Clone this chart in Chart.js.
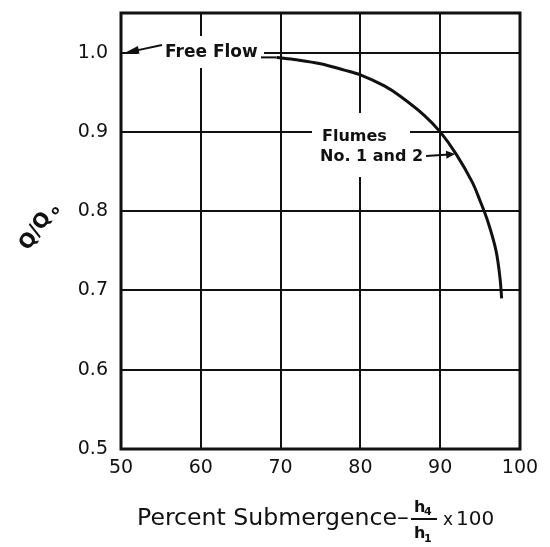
<!DOCTYPE html>
<html>
<head>
<meta charset="utf-8">
<script src="https://cdn.jsdelivr.net/npm/chart.js@4.4.1/dist/chart.umd.min.js"></script>
<style>
  html, body { margin: 0; padding: 0; background: #fff; }
  #wrap { width: 550px; height: 547px; }
</style>
</head>
<body>
<div id="wrap"><canvas id="flowChart" width="550" height="547"></canvas></div>
<script>
// curve
const submergence = [69.5, 72, 75, 78, 80, 83, 85, 88, 90, 92, 94, 95, 96, 97, 97.5, 97.7];
const flowRatio = [0.994, 0.991, 0.986, 0.978, 0.972, 0.958, 0.945, 0.921, 0.9, 0.872, 0.837, 0.813, 0.786, 0.75, 0.715, 0.69];

const xTicks = [50, 60, 70, 80, 90, 100];
const yTicks = [0.5, 0.6, 0.7, 0.8, 0.9, 1.0];

const INK = '#111';
const tickFont = { family: 'DejaVu Sans', size: 19 };

function arrowHead(ctx, x1, y1, x2, y2, len, half) {
    const a = Math.atan2(y2 - y1, x2 - x1);
    ctx.beginPath();
    ctx.moveTo(x2, y2);
    ctx.lineTo(x2 - len * Math.cos(a) + half * Math.sin(a), y2 - len * Math.sin(a) - half * Math.cos(a));
    ctx.lineTo(x2 - len * Math.cos(a) - half * Math.sin(a), y2 - len * Math.sin(a) + half * Math.cos(a));
    ctx.closePath();
    ctx.fill();
}

const notesPlugin = {
    id: 'notes',
    afterDatasetsDraw(chart) {
        const ctx = chart.ctx;
        const xs = chart.scales.x, ys = chart.scales.y;
        ctx.save();
        // white patches behind the labels (gridlines are broken there)
        ctx.fillStyle = '#fff';
        ctx.fillRect(138, 36, 126, 32);
        ctx.fillRect(312, 113, 98, 64);

        ctx.fillStyle = INK;
        ctx.strokeStyle = INK;
        ctx.textBaseline = 'middle';
        ctx.font = 'bold 17px "DejaVu Sans"';
        ctx.fillText('Free Flow', 165, 53);
        ctx.lineWidth = 2;
        const sx = xs.getPixelForValue(submergence[0]), sy = ys.getPixelForValue(flowRatio[0]);
        ctx.beginPath();
        ctx.moveTo(261, sy);
        ctx.lineTo(sx, sy);
        ctx.stroke();
        // arrow to the free-flow point
        const tx = xs.getPixelForValue(50) + 4, ty = ys.getPixelForValue(1.0);
        ctx.beginPath();
        ctx.moveTo(162, 45);
        ctx.lineTo(tx + 6, ty - 1);
        ctx.stroke();
        arrowHead(ctx, 162, 45, tx, ty, 14, 4);

        ctx.font = 'bold 16px "DejaVu Sans"';
        ctx.fillText('Flumes', 322, 137);
        const note = 'No. 1 and 2';
        ctx.fillText(note, 320, 157);
        const end = 320 + ctx.measureText(note).width + 3;
        const hx = xs.getPixelForValue(92) - 1, hy = ys.getPixelForValue(0.872);
        ctx.beginPath();
        ctx.moveTo(end, 156);
        ctx.lineTo(hx - 6, hy + 0.3);
        ctx.stroke();
        arrowHead(ctx, end, 156, hx, hy, 9, 4);
        ctx.restore();
    },
    afterDraw(chart) {
        const ctx = chart.ctx;
        const a = chart.chartArea;
        ctx.save();
        ctx.strokeStyle = INK;
        ctx.lineWidth = 3;
        ctx.strokeRect(a.left, a.top, a.right - a.left, a.bottom - a.top);

        ctx.fillStyle = INK;
        ctx.textBaseline = 'alphabetic';
        // x title
        const label = 'Percent Submergence\u2013';
        ctx.font = '20px "DejaVu Sans"';
        const w = ctx.measureText(label).width;
        const size = 20 * 272 / w;
        ctx.font = size.toFixed(1) + 'px "DejaVu Sans"';
        ctx.fillText(label, 137, 525);
        ctx.lineWidth = 2;
        ctx.beginPath();
        ctx.moveTo(411, 519);
        ctx.lineTo(437, 519);
        ctx.stroke();
        ctx.font = 'bold 16px "DejaVu Sans"';
        ctx.fillText('h', 414, 512);
        ctx.fillText('h', 414, 538);
        ctx.font = 'bold 11px "DejaVu Sans"';
        ctx.fillText('4', 424, 515);
        ctx.fillText('1', 424, 542);
        ctx.font = '17px "DejaVu Sans"';
        ctx.fillText('x', 443, 525);
        ctx.font = '20px "DejaVu Sans"';
        ctx.fillText('100', 456, 525);

        // y title, slanted
        ctx.translate(38, 228);
        ctx.rotate(-56 * Math.PI / 180);
        ctx.textAlign = 'center';
        ctx.textBaseline = 'middle';
        ctx.font = 'bold 20px "DejaVu Sans"';
        ctx.fillText('Q/Q', -4, 0);
        ctx.font = 'bold 12px "DejaVu Sans"';
        ctx.fillText('o', 24, 5);
        ctx.restore();
    }
};

const ctx = document.getElementById('flowChart').getContext('2d');
new Chart(ctx, {
    type: 'scatter',
    data: {
        datasets: [{
            label: 'Flumes No. 1 and 2',
            data: submergence.map((x, i) => ({ x: x, y: flowRatio[i] })),
            showLine: true,
            borderColor: INK,
            borderWidth: 3,
            pointRadius: 0,
            tension: 0.35,
            fill: false
        }]
    },
    options: {
        responsive: false,
        animation: false,
        devicePixelRatio: 1,
        layout: { padding: { left: 0, top: 13, right: 30, bottom: 0 } },
        plugins: { legend: { display: false }, tooltip: { enabled: false } },
        scales: {
            x: {
                type: 'linear',
                min: 50,
                max: 100,
                afterBuildTicks: axis => { axis.ticks = xTicks.map(v => ({ value: v })); },
                afterFit: axis => {
                    axis.height = 98;
                    axis.paddingLeft = 0;
                    axis.paddingRight = 0;
                },
                grid: { color: INK, lineWidth: 2, drawTicks: false },
                border: { display: false },
                ticks: { color: INK, font: tickFont, padding: 8, maxRotation: 0 }
            },
            y: {
                type: 'linear',
                min: 0.5,
                max: 1.05,
                afterBuildTicks: axis => { axis.ticks = yTicks.map(v => ({ value: v })); },
                afterFit: axis => {
                    axis.width = 121;
                    axis.paddingTop = 0;
                    axis.paddingBottom = 0;
                },
                grid: { color: INK, lineWidth: 2, drawTicks: false },
                border: { display: false },
                ticks: { color: INK, font: tickFont, padding: 13, callback: v => v.toFixed(1) }
            }
        }
    },
    plugins: [notesPlugin]
});
</script>
</body>
</html>
